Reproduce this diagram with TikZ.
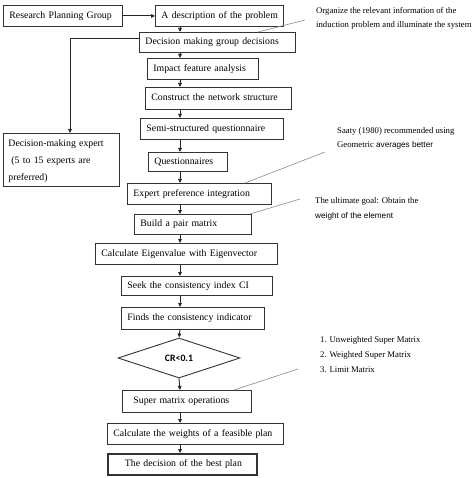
\documentclass[tikz,border=0pt]{standalone}
\usepackage{fontspec}
\setmainfont{Liberation Serif}
\newfontfamily\crfont{Carlito}
\newfontfamily\sansf{Liberation Sans}
\usetikzlibrary{arrows.meta,shapes.geometric}
\newcommand{\mybox}[7][]{%
  \pgfmathsetmacro{\bw}{#5-#3-12}%
  \pgfmathsetmacro{\bh}{#6-#4}%
  \node[box,#1,text width=\bw pt,minimum height=\bh pt,anchor=north west] (#2) at (#3,#4)
    {\begin{tabular}{@{}l@{}}#7\end{tabular}};}
\begin{document}
\begin{tikzpicture}[x=1pt,y=-1pt,
  box/.style={draw=black!80,line width=0.9pt,inner xsep=6pt,inner ysep=0pt,align=left,
    font=\fontsize{9.8}{12}\selectfont},
  arr/.style={draw=black!85,line width=0.9pt,-{Triangle[length=4pt,width=3.6pt]}},
  note/.style={draw=black!45,line width=0.6pt},
  notetext/.style={inner sep=0pt,align=left,anchor=base west,font=\fontsize{8.7}{14.8}\selectfont}]
\useasboundingbox[fill=white] (0,0) rectangle (474,478);
\coordinate (mx) at (180,0);
\coordinate (lx) at (70,0);
\mybox{rpg}{3}{5}{122}{26}{Research Planning Group}
\mybox{desc}{155}{5}{283}{26}{A description of the problem}
\mybox{dmg}{139}{32}{295}{52}{Decision making group decisions}
\mybox{ifa}{147}{58}{258}{79}{Impact feature analysis}
\mybox{cns}{145}{87}{291}{109}{Construct the network structure}
\mybox{ssq}{140}{118}{283}{139}{Semi-structured questionnaire}
\mybox[inner xsep=5pt,font=\fontsize{9.8}{17}\selectfont]{dme}{3}{133}{121}{186}{Decision-making expert\\\hspace*{3pt}(5 to 15 experts are\\preferred)}
\mybox{q}{148}{152}{227}{171}{Questionnaires}
\mybox{epi}{127}{183}{271}{204}{Expert preference integration}
\mybox{bpm}{134}{214}{251}{234}{Build a pair matrix}
\mybox{cev}{95}{243}{277}{264}{Calculate Eigenvalue with Eigenvector}
\mybox{sci}{121}{276}{272}{295}{Seek the consistency index CI}
\mybox{fci}{121}{307}{264}{329}{Finds the consistency indicator}
\node[diamond,draw=black!80,line width=0.9pt,minimum width=122pt,minimum height=40pt,inner sep=0pt,
  aspect=3,font=\crfont\bfseries\fontsize{9.8}{12}\selectfont] (cr) at (179,358) {CR<0.1};
\mybox{smo}{122}{390}{251}{412}{\hspace*{5pt}Super matrix operations}
\mybox{cwf}{107}{423}{283}{444}{Calculate the weights of a feasible plan}
\mybox[line width=1.8pt,inner xsep=7pt]{dbp}{107}{453}{254}{474}{\hspace*{10pt}The decision of the best plan}
% arrows
\draw[arr] (rpg.east) -- (desc.west);
\draw[arr] (desc.south -| mx) -- (dmg.north -| mx);
\draw[arr] (dmg.south -| mx) -- (ifa.north -| mx);
\draw[arr] (ifa.south -| mx) -- (cns.north -| mx);
\draw[arr] (cns.south -| mx) -- (ssq.north -| mx);
\draw[arr] (ssq.south -| mx) -- (q.north -| mx);
\draw[arr] (q.south -| mx) -- (epi.north -| mx);
\draw[arr] (epi.south -| mx) -- (bpm.north -| mx);
\draw[arr] (bpm.south -| mx) -- (cev.north -| mx);
\draw[arr] (cev.south -| mx) -- (sci.north -| mx);
\draw[arr] (sci.south -| mx) -- (fci.north -| mx);
\draw[arr] (fci.south -| mx) -- (cr.north);
\draw[arr] (cr.south) -- (smo.north -| mx);
\draw[arr] (smo.south -| mx) -- (cwf.north -| mx);
\draw[arr] (cwf.south -| mx) -- (dbp.north -| mx);
\draw[arr] ([yshift=4pt]dmg.west) -| (dme.north -| lx);
% annotations
\node[notetext] (n1) at (316,28) {Organize the relevant information of the\\induction problem and illuminate the system};
\node[notetext] (n2) at (337,148) {Saaty (1980) recommended using\\Geometric {\sansf\fontsize{8.2}{14.8}\selectfont averages better}};
\node[notetext] (n3) at (315,218) {The ultimate goal: Obtain the\\{\sansf\fontsize{8.2}{14.8}\selectfont weight of the element}};
\node[notetext] (n4) at (320,372) {1. Unweighted Super Matrix\\2. Weighted Super Matrix\\3. Limit Matrix};
\coordinate (e1) at (305,20);
\coordinate (e2) at (325,152);
\coordinate (e3) at (300,199);
\coordinate (e4) at (298,369);
\draw[note] (dmg.north -| 258,0) -- (e1);
\draw[note] (epi.north -| 245,0) -- (e2);
\draw[note] (bpm.north -| 250,0) -- (e3);
\draw[note] (smo.north -| 234,0) -- (e4);
\end{tikzpicture}
\end{document}
